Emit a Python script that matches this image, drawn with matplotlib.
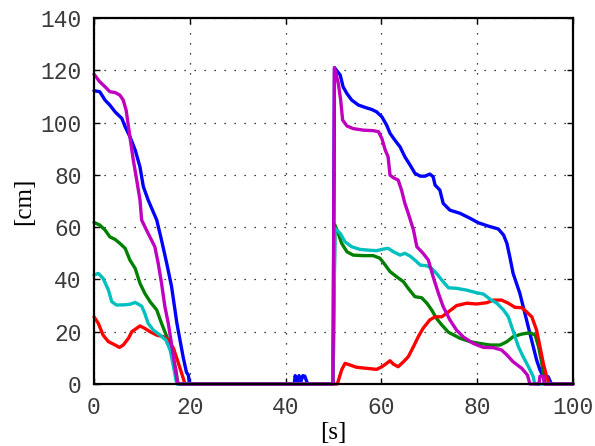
import matplotlib
matplotlib.use("Agg")
import matplotlib.pyplot as plt

# ---- data (time [s], distance [cm]) ----
blue_t = [0, 1.2, 2.3, 3.3, 4.4, 5.8, 6.5, 7.5, 8.6, 9.6, 10.3, 11.3, 13.1, 14.1, 15.2, 16.2, 17.3, 18.6, 19.3, 19.7, 19.9, 20.1,
          41.8, 42.0, 42.4, 42.8, 43.2, 43.6, 44.0, 44.5, 44.7,
          49.9, 50.2, 51.4, 52.0, 52.8, 53.8, 55.2, 56.6, 58.0, 59.0, 60.1, 61.1, 61.8, 62.8, 63.9, 64.9, 66.0, 67.0, 68.1, 69.1,
          70.1, 70.8, 71.2, 72.2, 72.9, 74.3, 76.4, 78.5, 80.2, 82.3, 84.4, 85.5, 86.2, 86.8, 87.5, 88.2, 88.9, 89.6, 90.3,
          91.0, 91.7, 92.4, 93.1, 93.8, 94.8, 95.5, 100]
blue_v = [112.2, 111.8, 108.6, 106.7, 104.1, 101.6, 98.4, 94.6, 89.5, 83, 75.5, 70.4, 62.7, 55, 46, 37.2, 23.3, 10.4, 4.5, 3.4, 0.5, 0,
          0, 3.2, 0.8, 3.2, 1.0, 3.2, 3.0, 0.5, 0,
          0, 121, 118.2, 113.7, 111.1, 108.6, 106.7, 105.8, 105.0, 104.1, 102.2, 99, 95.9, 93.3, 90.7, 86.9, 83.7, 80.6, 79.5, 79.5,
          80.3, 79.3, 76.1, 74.2, 69.1, 66.5, 65.3, 63.4, 61.7, 60.4, 59.3, 57, 53.8, 48.7, 42.3, 38.5, 34.7, 29.6, 24.5,
          19.4, 14.3, 9.2, 5.4, 2.8, 2.8, 0, 0]

green_t = [0, 1.2, 2.3, 3.3, 4.4, 5.4, 6.5, 7.5, 8.6, 9.6, 10.6, 11.7, 13.1, 14.1, 15.2, 16.2, 17.1, 17.5,
           49.9, 50.3, 51.0, 51.7, 52.8, 54.1, 56.2, 58.3, 59.7, 60.8, 61.8, 63.2, 64.6, 65.6, 67.0, 68.4, 69.5, 70.5,
           71.5, 72.6, 74.0, 76.4, 78.5, 80.6, 82.7, 84.8, 86.2, 87.5, 89.3, 91.0, 92.1, 92.8, 93.5, 93.9, 94.2, 100]
green_v = [61.8, 60.8, 58.9, 56.3, 55.3, 53.8, 51.9, 47.4, 44.2, 38.5, 34.7, 31.5, 28.3, 23.2, 18.1, 11.7, 5.4, 0,
           0, 60.8, 57.6, 53.8, 50.6, 49.3, 49.1, 49.1, 48.1, 45.5, 43, 41, 39.1, 36.6, 33.4, 33, 30.9, 28.3,
           25.1, 22.6, 19.8, 17.5, 16.2, 15.5, 14.9, 14.9, 16.2, 18.1, 19.1, 19.6, 18.7, 14.3, 7.9, 2.8, 0, 0]

red_t = [0, 0.9, 1.9, 3.0, 4.0, 5.3, 6.1, 7.2, 7.9, 8.9, 9.6, 10.6, 11.7, 13.1, 14.5, 15.5, 16.6, 17.4, 18.3, 19.0,
         50.8, 51.7, 52.4, 53.4, 54.8, 56.9, 59.0, 60.1, 61.1, 61.8, 62.5, 63.5, 64.6, 65.6, 66.7, 67.7, 68.7, 70.1,
         71.2, 72.6, 74.0, 75.7, 77.8, 79.9, 82.0, 83.4, 85.1, 86.5, 87.9, 89.3, 90.3, 91.4, 92.4, 93.1, 93.8, 94.5, 95.0, 100]
red_v = [25.7, 23.2, 18.7, 16.2, 15.3, 14.0, 14.9, 17.5, 20, 21.3, 22.2, 21.3, 20, 18.7, 18.1, 16.8, 13.6, 9.2, 4.1, 0,
         0, 5.4, 7.9, 7.3, 6.4, 6.0, 5.6, 6.6, 7.9, 8.9, 7.6, 6.6, 8.5, 10.4, 14.3, 18.1, 21.3, 24.5,
         25.7, 25.7, 27.6, 30.0, 30.9, 30.6, 31.1, 32.1, 32.1, 30.9, 29.3, 29.2, 27.6, 25.7, 20.6, 14.3, 7.9, 2.8, 0, 0]

cyan_t = [0, 0.9, 1.9, 3.0, 3.7, 4.7, 6.5, 7.5, 8.6, 9.95, 10.6, 11.3, 12.4, 13.8, 15.0, 15.9, 16.6, 17.1, 17.3,
          49.9, 50.3, 51.4, 52.4, 53.8, 55.5, 57.3, 59.0, 60.4, 61.4, 62.5, 63.9, 64.9, 66.0, 67.0, 68.1, 69.5, 70.5,
          71.5, 72.9, 74.0, 75.7, 77.8, 79.9, 81.3, 82.7, 84.1, 85.5, 86.5, 87.2, 87.9, 88.6, 89.6, 90.7, 91.7, 92.0, 100]
cyan_v = [41.7, 42.3, 40.4, 36, 31.5, 30.2, 30.3, 30.5, 31.2, 29.8, 27, 23.2, 20.6, 18.7, 16.8, 13, 6.6, 1.5, 0,
          0, 59.5, 57.6, 54.4, 52.5, 51.5, 51.2, 51.0, 51.6, 51.9, 50.6, 49.3, 50.0, 48.9, 47.4, 45.5, 45.2, 44.2,
          42.3, 39.1, 36.8, 36.6, 35.9, 34.9, 34.4, 32.4, 30.9, 28.3, 25.7, 21.9, 18.1, 14.3, 10.4, 6.6, 2.8, 0, 0]

magenta_t = [0, 1.2, 2.3, 3.3, 4.4, 5.4, 6.1, 6.7, 7.2, 7.7, 8.2, 8.8, 9.6, 9.95, 11.3, 12.7, 13.4, 14.1, 14.8, 15.5, 16.6, 17.4, 17.8,
             49.9, 50.2, 51.0, 51.5, 51.9, 52.8, 54.1, 56.2, 58.3, 59.4, 60.1, 60.8, 61.4, 61.8, 62.5, 63.5, 64.2, 64.9,
             65.6, 66.7, 67.4, 68.7, 69.8, 70.8, 71.9, 72.9, 74.3, 75.7, 77.1, 79.2, 81.3, 83.4, 85.1, 86.2, 87.5, 89.3,
             90.5, 91.0, 92.9, 93.1, 93.8, 94.0, 100]
magenta_v = [118.5, 115.6, 113.7, 111.8, 111.5, 110.5, 108.6, 104.8, 98.4, 92, 85.7, 79.3, 70.4, 62.7, 57.6, 52.5, 46.2, 38.5, 29.6, 23.3, 10.4, 0.9, 0,
             0, 121, 115, 108.6, 101, 98.7, 97.7, 97.1, 96.9, 96.5, 93.9, 89.5, 86.9, 79.9, 78.9, 78, 74.2, 69.1,
             65.3, 58.9, 52.5, 50, 47.4, 41, 34.7, 29.6, 24.5, 20.6, 18.0, 15.5, 14, 13.9, 13, 11.1, 8.5, 6,
             3.4, 0, 0, 3.0, 3.0, 0, 0]

series = [(blue_t, blue_v, (0, 0, 1)),
          (green_t, green_v, (0, 0.5, 0)),
          (red_t, red_v, (1, 0, 0)),
          (cyan_t, cyan_v, (0, 0.75, 0.75)),
          (magenta_t, magenta_v, (0.75, 0, 0.75))]

x_ticks = [0, 20, 40, 60, 80, 100]
y_ticks = [0, 20, 40, 60, 80, 100, 120, 140]

fig = plt.figure(figsize=(5.95, 4.46), dpi=100)
ax = fig.add_axes([94 / 595, 62 / 446, 479 / 595, 366 / 446])

for t, v, c in series:
    ax.plot(t, v, color=c, linewidth=2.4, clip_on=False,
            solid_joinstyle='round', solid_capstyle='round')

ax.set_xlim(0, 100)
ax.set_ylim(0, 140)
ax.set_xticks(x_ticks)
ax.set_yticks(y_ticks)
ax.grid(True, color='black', linestyle=(0, (1, 7)), linewidth=0.9)
ax.tick_params(direction='in', length=4, width=1, top=True, right=True,
               labelsize=16.5, labelcolor='#3a3a3a', pad=9)
for lab in ax.get_xticklabels() + ax.get_yticklabels():
    lab.set_family('Liberation Mono')
for s in ax.spines.values():
    s.set_linewidth(1.6)
    s.set_color('black')

ax.set_xlabel('[s]', family='Liberation Serif', fontsize=18, labelpad=2)
ax.set_ylabel('[cm]', family='Liberation Serif', fontsize=18, labelpad=4)

fig.savefig('out.png', dpi=100)
